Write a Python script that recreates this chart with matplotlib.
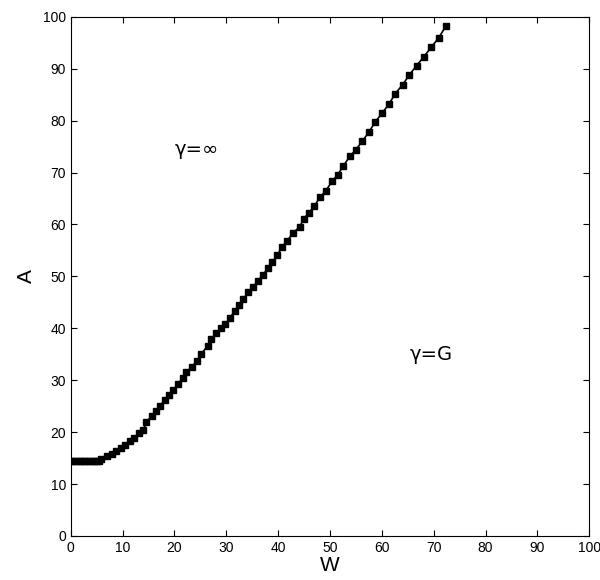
import matplotlib
matplotlib.use("Agg")
import matplotlib.pyplot as plt

plt.rcParams['font.family'] = ['Liberation Sans', 'DejaVu Sans']

# boundary curve
W = [0.0, 0.5, 1.0, 1.5, 2.0, 2.5, 3.0, 3.5, 4.0, 4.5, 5.0, 5.5,
     5.9, 6.9, 7.9, 8.8, 9.7, 10.4, 11.4, 12.2, 13.1, 14.0,
     14.6, 15.6, 16.4, 17.2, 18.1, 18.9, 19.8, 20.7, 21.6, 22.3,
     23.3, 24.3, 25.2, 26.4, 27.1, 28.0, 29.0, 29.8, 30.7, 31.6,
     32.5, 33.3, 34.2, 35.2, 36.1, 37.1, 38.0, 38.9, 39.8, 40.8,
     41.8, 42.8, 44.2, 44.9, 46.0, 47.0, 48.1, 49.2, 50.4, 51.5,
     52.6, 53.8, 55.0, 56.2, 57.5, 58.7, 60.0, 61.4, 62.5, 64.0,
     65.3, 66.7, 68.1, 69.5, 71.0, 72.4]
A = [14.5, 14.5, 14.5, 14.5, 14.5, 14.5, 14.5, 14.5, 14.5, 14.5, 14.5, 14.5,
     14.8, 15.3, 15.8, 16.4, 16.9, 17.5, 18.2, 18.9, 19.8, 20.4,
     22.0, 23.1, 24.0, 25.0, 26.2, 27.1, 28.1, 29.3, 30.4, 31.6,
     32.5, 33.7, 35.1, 36.6, 37.9, 39.0, 40.0, 40.8, 42.0, 43.3,
     44.5, 45.7, 46.9, 48.0, 49.2, 50.3, 51.6, 52.8, 54.1, 55.7,
     56.9, 58.3, 59.6, 61.1, 62.3, 63.6, 65.3, 66.5, 68.3, 69.6,
     71.3, 73.1, 74.4, 76.0, 77.8, 79.7, 81.4, 83.2, 85.1, 86.9,
     88.8, 90.6, 92.3, 94.1, 96.0, 98.3]

fig = plt.figure(figsize=(6, 5.8), dpi=100)
ax = fig.add_axes([0.118, 0.076, 0.864, 0.895])
ax.plot(W, A, "-s", color="black", lw=1.2, ms=4.8)

ax.set_xlim(0, 100); ax.set_ylim(0, 100)
ax.set_xticks(range(0, 101, 10)); ax.set_yticks(range(0, 101, 10))
ax.tick_params(direction="in", top=True, right=True, labelsize=10, length=4)
ax.set_xlabel("W", fontsize=15, labelpad=1)
ax.set_ylabel("A", fontsize=15, labelpad=5)

ax.text(20, 74.5, "γ=∞", fontsize=14, va="center", family="DejaVu Sans")
ax.text(65.4, 35, "γ=G", fontsize=14, va="center", family="DejaVu Sans")

fig.savefig("out.png", dpi=100)
